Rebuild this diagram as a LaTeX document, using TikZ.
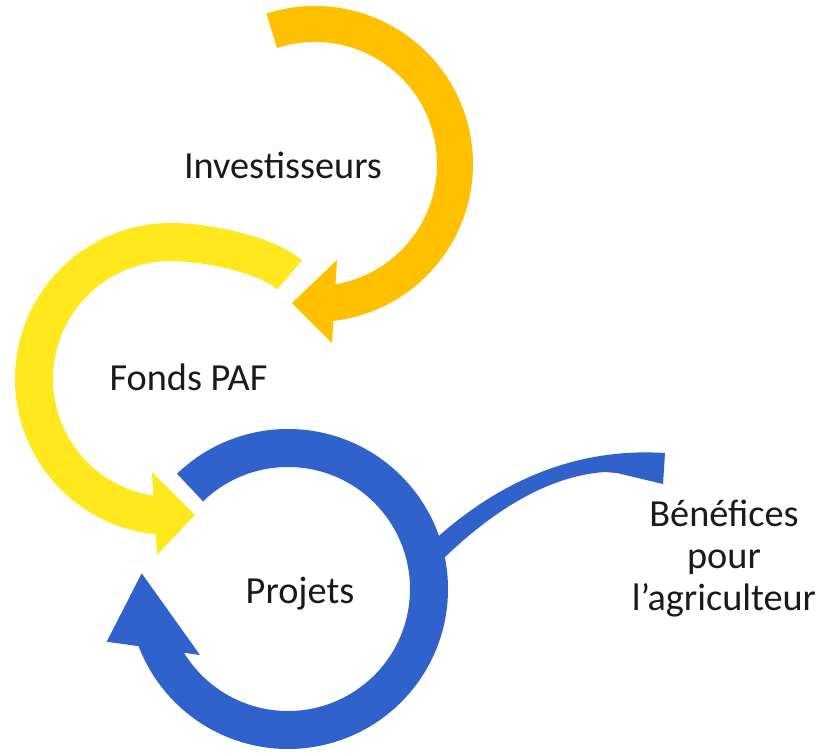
\documentclass[tikz,border=0pt]{standalone}
\usepackage{fontspec}
\setmainfont{Carlito}
\usepackage{tikz}
\definecolor{gold}{RGB}{255,192,0}
\definecolor{lemon}{RGB}{255,232,30}
\definecolor{royal}{RGB}{48,98,204}
\definecolor{ink}{RGB}{26,26,26}

\begin{document}
\begin{tikzpicture}[x=1pt,y=1pt,
  lbl/.style={font=\fontsize{38.3}{41.7}\selectfont,text=ink,inner sep=0pt,anchor=base,align=center}]
  \fill[white] (0,0) rectangle (824,-755);
  \useasboundingbox (0,0) rectangle (824,-755);
  \coordinate (inv-c) at (315,-164);
  \coordinate (paf-c) at (171,-379);
  \coordinate (pro-c) at (288,-589);

  \draw[gold,line width=36] ([shift={(108:140)}]inv-c) arc[start angle=108,end angle=-85,radius=140];
  \fill[gold] (337,-260) -- (292,-303) -- (332,-343) -- cycle;

  \draw[lemon,line width=38] (289.5,-275) .. controls (271.8,-257.3) and (211,-242) .. ([shift={(90:137)}]paf-c) arc[start angle=90,end angle=268,radius=137];
  \fill[lemon] (152,-472) -- (195,-515) -- (157,-555) -- cycle;

  \fill[royal] (432,-542) .. controls (478,-500) and (555,-446) .. (665,-453) -- (663,-484) -- (617,-473) -- (605,-472) .. controls (545,-476) and (488,-515) .. (442,-560) -- cycle;
  \draw[royal,line width=38] ([shift={(134:141)}]pro-c) arc[start angle=134,end angle=-160,radius=141];
  \fill[royal] (106.7,-641.7) -- (141.7,-573.3) -- (200,-655) -- cycle;

  \node[lbl] (inv) at (283,-178) {Investisseurs};
  \node[lbl] (paf) at (188.5,-390) {Fonds PAF};
  \node[lbl] (pro) at (300,-603) {Projets};
  \node[lbl] (ben) at (724,-610) {Bénéfices\\pour\\l’agriculteur};
\end{tikzpicture}
\end{document}
